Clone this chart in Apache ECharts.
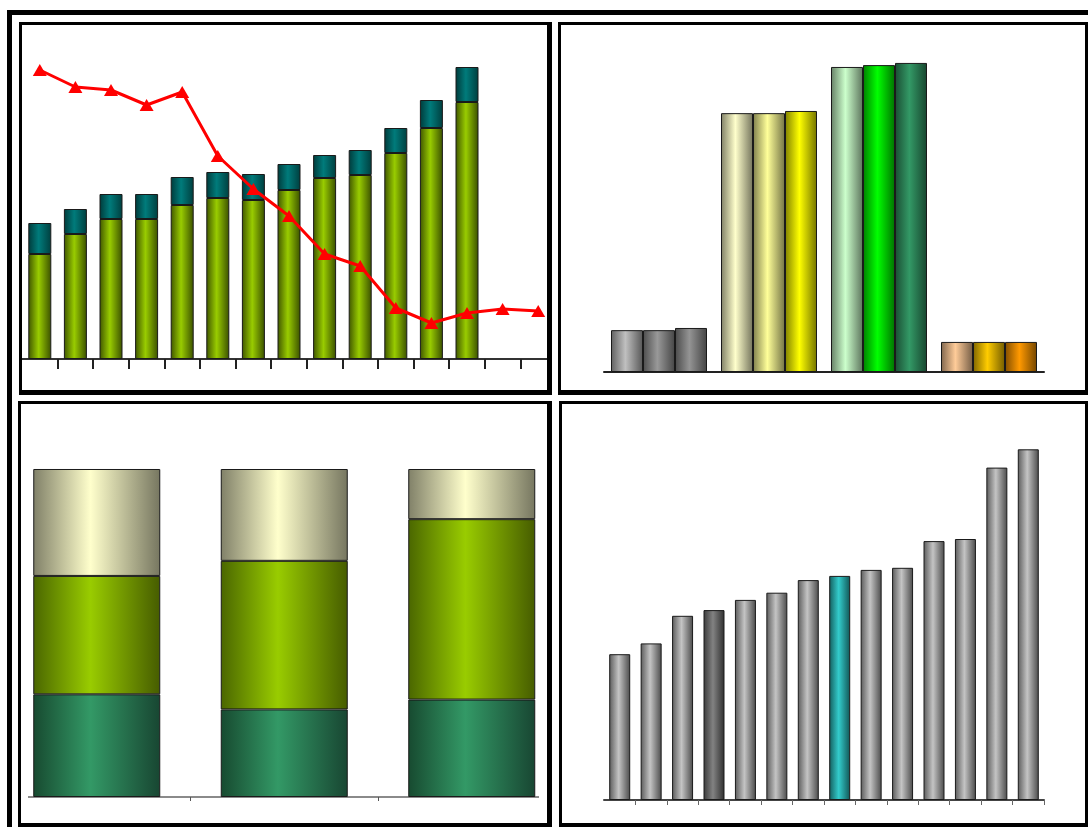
<!DOCTYPE html>
<html>
<head>
<meta charset="utf-8">
<title>Four charts</title>
<script src="https://cdn.jsdelivr.net/npm/echarts@6/dist/echarts.min.js"></script>
<style>
html, body { margin: 0; padding: 0; background: #fff; }
#main { width: 1088px; height: 827px; }
</style>
</head>
<body>
<div id="main"></div>
<script>
// top-left: stacked columns with a line on its own scale
var cats1 = ['1', '2', '3', '4', '5', '6', '7', '8', '9', '10', '11', '12', '13', '14', '15'];
var lower1 = [52.5, 62.5, 70, 70, 77, 80.5, 79.5, 84.5, 90.5, 92, 103, 115.5, 128.5];
var upper1 = [15.5, 12.5, 12.5, 12.5, 14, 13, 13, 13, 11.5, 12.5, 12.5, 14, 17.5];
var line1 = [14.45, 13.6, 13.45, 12.7, 13.35, 10.15, 8.5, 7.15, 5.25, 4.65, 2.55, 1.8, 2.3, 2.5, 2.4];

// top-right: four groups of three columns
var cats2 = ['A', 'B', 'C', 'D'];
var first2 = [13.5, 83.5, 98.4, 9.7];
var second2 = [13.5, 83.5, 99, 9.7];
var third2 = [14.2, 84.2, 99.7, 9.7];

// bottom-left: 100% stacked columns
var cats3 = ['1', '2', '3'];
var bottom3 = [31.3, 26.7, 29.7];
var middle3 = [36.1, 45.3, 55.0];
var top3 = [32.6, 28.0, 15.3];

// bottom-right: single series
var cats4 = ['1', '2', '3', '4', '5', '6', '7', '8', '9', '10', '11', '12', '13', '14'];
var values4 = [48.6, 52.2, 61.4, 63.3, 66.7, 69.1, 73.3, 74.7, 76.7, 77.4, 86.3, 87, 110.8, 116.9];

function grad(a, b, c) {
    return new echarts.graphic.LinearGradient(0, 0, 1, 0, [
        { offset: 0, color: a },
        { offset: 0.45, color: b },
        { offset: 1, color: c }
    ]);
}

function shade(hex, f) {
    var n = parseInt(hex.slice(1), 16);
    var r = Math.round(((n >> 16) & 255) * f);
    var g = Math.round(((n >> 8) & 255) * f);
    var b = Math.round((n & 255) * f);
    return 'rgb(' + r + ',' + g + ',' + b + ')';
}

function tube(hex) {
    return grad(shade(hex, 0.5), hex, shade(hex, 0.45));
}

var edge = { borderColor: '#1a1a1a', borderWidth: 1 };

// colours of the top-right groups, one list per series
var pal2 = [
    ['#c0c0c0', '#ffffcc', '#ccffcc', '#ffcc99'],
    ['#999999', '#ffff99', '#00ff00', '#ffcc00'],
    ['#949494', '#ffff00', '#339966', '#ff9900']
];

function coloured(values, colors) {
    return values.map(function (v, i) {
        return { value: v, itemStyle: { color: tube(colors[i]) } };
    });
}

var darkIdx = 3, tealIdx = 7;
var data4 = values4.map(function (v, i) {
    var c = grad('#5a5a5a', '#c4c4c4', '#4a4a4a');
    if (i === darkIdx) c = grad('#3a3a3a', '#828282', '#2e2e2e');
    if (i === tealIdx) c = grad('#145e5e', '#33cccc', '#115555');
    return { value: v, itemStyle: { color: c } };
});

// frames
var shapes = [];
function box(x, y, w, h) {
    var parts = [[x, y, w, 3], [x, y, 3, h], [x + w - 5, y, 5, h], [x, y + h - 5, w, 5]];
    parts.forEach(function (p) {
        shapes.push({ type: 'rect', z: 20, silent: true,
            shape: { x: p[0], y: p[1], width: p[2], height: p[3] }, style: { fill: '#000' } });
    });
}
function cover(x, y, w, h) {
    shapes.push({ type: 'rect', z: 19, silent: true,
        shape: { x: x, y: y, width: w, height: h }, style: { fill: '#fff' } });
}
cover(552, 22, 6, 373);
cover(0, 788, 28, 18);
cover(539, 788, 32, 18);
box(19, 22, 533, 373);
box(558, 22, 532, 373);
box(18, 401, 534, 427);
box(559, 401, 531, 427);
shapes.push({ type: 'rect', z: 20, silent: true,
    shape: { x: 9.5, y: 12.5, width: 1100, height: 900 },
    style: { fill: null, stroke: '#000', lineWidth: 5 } });

var chart = echarts.init(document.getElementById('main'));

function skipFirst(i) { return i > 0; }

function xax(grid, data, line, tick) {
    return {
        type: 'category', gridIndex: grid, data: data, z: 3,
        axisLine: { lineStyle: line },
        axisTick: tick,
        axisLabel: { show: false },
        splitLine: { show: false }
    };
}
function yax(grid, max) {
    return { type: 'value', gridIndex: grid, min: 0, max: max, show: false, splitLine: { show: false } };
}

chart.setOption({
    animation: false,
    backgroundColor: '#fff',
    grid: [
        { left: 22, top: 59, width: 534, height: 300 },
        { left: 604, top: 62, width: 440, height: 310 },
        { left: 3, top: 469, width: 562.5, height: 328 },
        { left: 604, top: 440, width: 440, height: 360 }
    ],
    xAxis: [
        xax(0, cats1, { color: '#333', width: 2 }, { show: true, length: 10, interval: skipFirst,
            lineStyle: { color: '#222', width: 2 } }),
        xax(1, cats2, { color: '#222', width: 2 }, { show: false }),
        xax(2, cats3, { color: '#8a8a8a', width: 2 }, { show: true, length: 4, lineStyle: { color: '#555', width: 1 } }),
        xax(3, cats4, { color: '#444', width: 2 }, { show: true, length: 5, interval: skipFirst,
            lineStyle: { color: '#666', width: 1 } })
    ],
    yAxis: [yax(0, 150), yax(0, 15), yax(1, 100), yax(2, 100), yax(3, 120)],
    graphic: { elements: shapes },
    series: [
        { type: 'bar', xAxisIndex: 0, yAxisIndex: 0, stack: 'a', barWidth: 23, z: 4, data: lower1,
          itemStyle: Object.assign({ color: grad('#3f5500', '#99cc00', '#3a4f00') }, edge) },
        { type: 'bar', xAxisIndex: 0, yAxisIndex: 0, stack: 'a', barWidth: 23, z: 4, data: upper1,
          itemStyle: Object.assign({ color: grad('#003a3a', '#007b7b', '#003e3e') }, edge) },
        { type: 'line', xAxisIndex: 0, yAxisIndex: 1, z: 6, data: line1, showAllSymbol: true,
          symbol: 'triangle', symbolSize: [14, 12],
          lineStyle: { color: '#ff0000', width: 3 }, itemStyle: { color: '#ff0000' } },

        { type: 'bar', xAxisIndex: 1, yAxisIndex: 2, barWidth: 32, barGap: '0%', z: 4,
          data: coloured(first2, pal2[0]), itemStyle: edge },
        { type: 'bar', xAxisIndex: 1, yAxisIndex: 2, barWidth: 32, barGap: '0%', z: 4,
          data: coloured(second2, pal2[1]), itemStyle: edge },
        { type: 'bar', xAxisIndex: 1, yAxisIndex: 2, barWidth: 32, barGap: '0%', z: 4,
          data: coloured(third2, pal2[2]), itemStyle: edge },

        { type: 'bar', xAxisIndex: 2, yAxisIndex: 3, stack: 'b', barWidth: 127, z: 4, data: bottom3,
          itemStyle: Object.assign({ color: grad('#174a30', '#339966', '#184632') }, edge) },
        { type: 'bar', xAxisIndex: 2, yAxisIndex: 3, stack: 'b', barWidth: 127, z: 4, data: middle3,
          itemStyle: Object.assign({ color: grad('#4a6600', '#99cc00', '#465c00') }, edge) },
        { type: 'bar', xAxisIndex: 2, yAxisIndex: 3, stack: 'b', barWidth: 127, z: 4, data: top3,
          itemStyle: Object.assign({ color: grad('#808068', '#ffffcc', '#767660') }, edge) },

        { type: 'bar', xAxisIndex: 3, yAxisIndex: 4, barWidth: 21, z: 4, data: data4, itemStyle: edge }
    ]
});
</script>
</body>
</html>
